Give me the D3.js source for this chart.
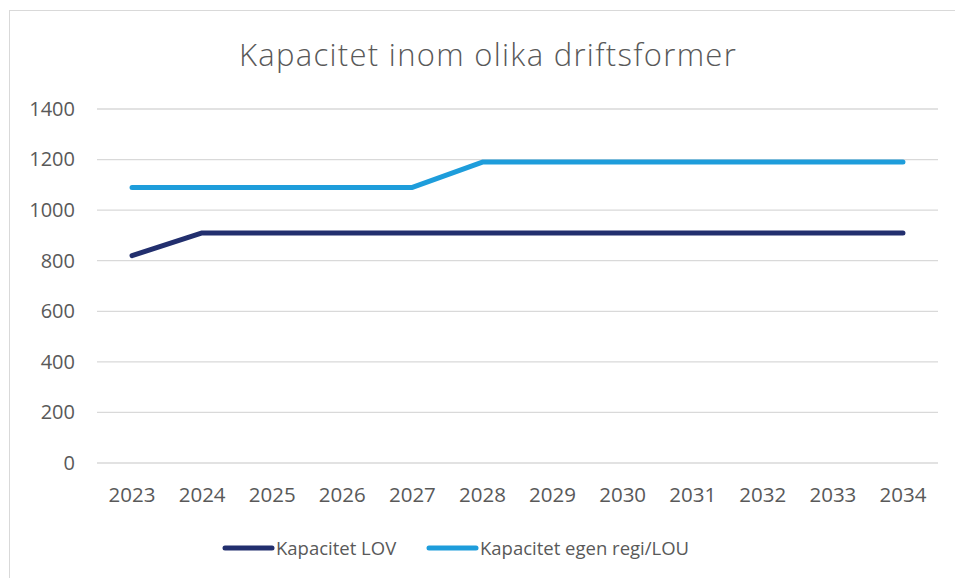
<!DOCTYPE html>
<html>
<head>
<meta charset="utf-8">
<script src="https://cdn.jsdelivr.net/npm/d3@7"></script>
<style>
  body { margin: 0; background: #fff; }
  text { font-family: "Open Sans", "Noto Sans", sans-serif; fill: #595959; }
</style>
</head>
<body>
<div id="chart"></div>
<script>
const years = ["2023", "2024", "2025", "2026", "2027", "2028", "2029", "2030", "2031", "2032", "2033", "2034"];
const lov = [820, 910, 910, 910, 910, 910, 910, 910, 910, 910, 910, 910];
const egenRegi = [1090, 1090, 1090, 1090, 1090, 1190, 1190, 1190, 1190, 1190, 1190, 1190];
const yTicks = [0, 200, 400, 600, 800, 1000, 1200, 1400];
const seriesNames = ["Kapacitet LOV", "Kapacitet egen regi/LOU"];
const seriesColors = ["#222f6e", "#1e9ddb"];

drawChart();

function drawChart() {
  const width = 955;
  const height = 578;
  const margin = { left: 97, top: 109, right: 17, bottom: 115 };
  const innerWidth = width - margin.left - margin.right;
  const innerHeight = height - margin.top - margin.bottom;

  const svg = d3.select("#chart").append("svg")
    .attr("width", width)
    .attr("height", height);

  // chart frame (runs off the right and bottom edges)
  svg.append("rect")
    .attr("x", 9.5).attr("y", 10.5)
    .attr("width", 1000).attr("height", 600)
    .attr("fill", "none")
    .attr("stroke", "#d9d9d9");

  svg.append("text")
    .attr("x", 488).attr("y", 66)
    .attr("text-anchor", "middle")
    .style("font-size", "31px")
    .style("font-weight", 300)
    .style("letter-spacing", "1.3px")
    .text("Kapacitet inom olika driftsformer");

  const g = svg.append("g")
    .attr("transform", `translate(${margin.left},${margin.top})`);

  const x = d3.scaleBand().domain(years).range([0, innerWidth]);
  const y = d3.scaleLinear().domain([0, 1400]).range([innerHeight, 0]);

  // gridlines
  g.selectAll(".grid")
    .data(yTicks)
    .join("line")
    .attr("x1", 0).attr("x2", innerWidth)
    .attr("y1", (d) => y(d)).attr("y2", (d) => y(d))
    .attr("stroke", "#d9d9d9")
    .attr("stroke-width", 1.3);

  const yAxis = d3.axisLeft(y).tickValues(yTicks).tickFormat(d3.format("d")).tickSize(0).tickPadding(22);
  g.append("g").call(yAxis)
    .call((a) => a.select(".domain").remove())
    .selectAll("text")
    .style("font-size", "20px")
    .attr("fill", "#595959");

  const xAxis = d3.axisBottom(x).tickSize(0).tickPadding(24);
  g.append("g")
    .attr("transform", `translate(0,${innerHeight})`)
    .call(xAxis)
    .call((a) => a.select(".domain").remove())
    .selectAll("text")
    .style("font-size", "20.5px")
    .attr("fill", "#595959");

  const line = d3.line()
    .x((d, i) => x(years[i]) + x.bandwidth() / 2)
    .y((d) => y(d));

  [lov, egenRegi].forEach((s, i) => {
    g.append("path")
      .datum(s)
      .attr("d", line)
      .attr("fill", "none")
      .attr("stroke", seriesColors[i])
      .attr("stroke-width", 5)
      .attr("stroke-linecap", "round")
      .attr("stroke-linejoin", "round");
  });

  // legend
  const legendX = [225, 429];
  const legend = svg.selectAll(".legend")
    .data(seriesNames)
    .join("g")
    .attr("transform", (d, i) => `translate(${legendX[i]},548)`);
  legend.append("line")
    .attr("x1", 0).attr("x2", 47)
    .attr("stroke", (d, i) => seriesColors[i])
    .attr("stroke-width", 5)
    .attr("stroke-linecap", "round");
  legend.append("text")
    .attr("x", 51).attr("y", 7)
    .style("font-size", "18.5px")
    .text((d) => d);
}
</script>
</body>
</html>
